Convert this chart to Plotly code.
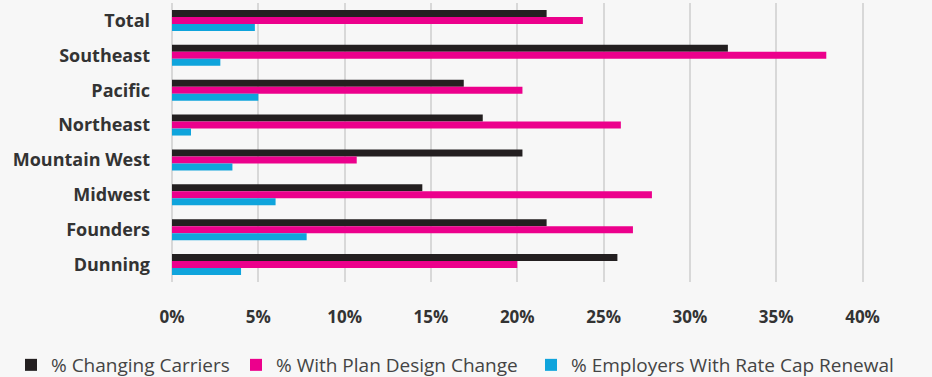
import plotly.graph_objects as go

categories = ["Total", "Southeast", "Pacific", "Northeast", "Mountain West", "Midwest", "Founders", "Dunning"]
changing_carriers = [21.7, 32.2, 16.9, 18.0, 20.3, 14.5, 21.7, 25.8]
plan_design_change = [23.8, 37.9, 20.3, 26.0, 10.7, 27.8, 26.7, 20.0]
rate_cap_renewal = [4.8, 2.8, 5.0, 1.1, 3.5, 6.0, 7.8, 4.0]
series_names = ["% Changing Carriers", "% With Plan Design Change", "% Employers With Rate Cap Renewal"]
tick_vals = [0, 5, 10, 15, 20, 25, 30, 35, 40]
tick_text = ["0%", "5%", "10%", "15%", "20%", "25%", "30%", "35%", "40%"]
colors = ["#231f20", "#ec008c", "#0fa4dc"]
legend_ids = ["legend", "legend2", "legend3"]
legend_x = [11, 236, 531]

fig = go.Figure()
for name, vals, col, lg in zip(series_names, [changing_carriers, plan_design_change, rate_cap_renewal], colors, legend_ids):
    fig.add_trace(go.Bar(y=categories, x=vals, name=name, orientation="h", legend=lg,
                         marker=dict(color=col, line=dict(width=0)), hoverinfo="skip"))

legend_font = dict(family="Open Sans", size=19, color="#444444")
legends = {}
for lg, lx in zip(legend_ids, legend_x):
    legends[lg] = dict(orientation="h", x=lx / 932, xref="container", y=(377 - 365) / 377, yref="container",
                       yanchor="middle", xanchor="left", font=legend_font,
                       itemwidth=30, bgcolor="rgba(0,0,0,0)", borderwidth=0)

fig.update_layout(
    width=932, height=377,
    margin=dict(l=172, r=66, t=3, b=95),
    paper_bgcolor="#f7f7f7", plot_bgcolor="#f7f7f7",
    barmode="group", bargap=0.4, bargroupgap=0,
    showlegend=True,
    xaxis=dict(range=[0, 40.2], tickvals=tick_vals, ticktext=tick_text,
               showgrid=True, gridcolor="#d8d8d8", gridwidth=2,
               zeroline=True, zerolinecolor="#d8d8d8", zerolinewidth=2,
               showline=False, ticks="", ticklabelstandoff=23,
               tickfont=dict(family="Open Sans", size=17, color="#333333", weight="bold")),
    yaxis=dict(autorange="reversed", showgrid=False, zeroline=False, showline=False,
               ticks="", ticklabelstandoff=21,
               tickfont=dict(family="Open Sans", size=18, color="#333333", weight="bold")),
    **legends,
)

fig.write_html("out.html")
